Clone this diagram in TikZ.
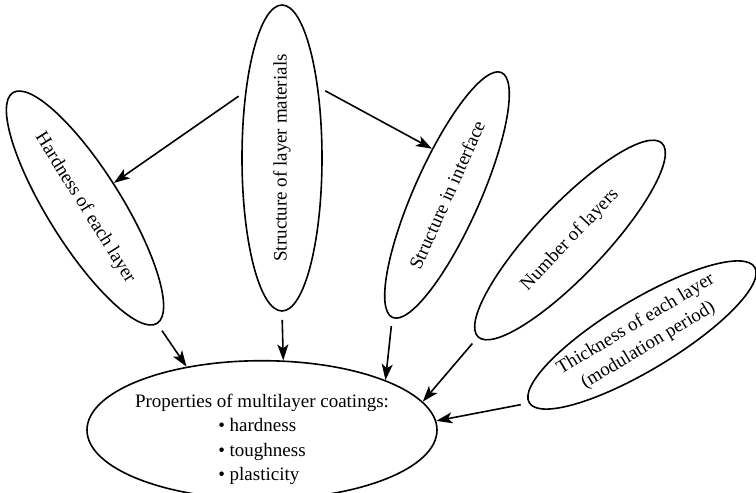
\documentclass[tikz,border=0pt]{standalone}
\usepackage{fontspec}
\setmainfont{Liberation Serif}
\usetikzlibrary{shapes.geometric,arrows.meta}

\begin{document}
\begin{tikzpicture}[x=1pt, y=-1pt, font=\fontsize{19}{24.5}\selectfont]
    % Define styles
    \tikzstyle{factor} = [ellipse, draw, line width=1.6pt, inner sep=0pt, align=center]
    \tikzstyle{arrow} = [line width=1.6pt, -{Stealth[length=16pt,width=11pt,inset=4pt]}, shorten <=8pt]

    \useasboundingbox (0,0) rectangle (756,493);

    % Nodes
    \node (f1) [factor, minimum width=272pt, minimum height=74pt, rotate=-58] at (85,208) {Hardness of each layer};
    \node (f2) [factor, minimum width=306pt, minimum height=80pt, rotate=90] at (282,158) {Structure of layer materials};
    \node (f3) [factor, minimum width=268pt, minimum height=66pt, rotate=66] at (447,195) {Structure in interface};
    \node (f4) [factor, minimum width=267pt, minimum height=70pt, rotate=46.5] at (570,240) {Number of layers};
    \node (f5) [factor, minimum width=263pt, minimum height=70pt, rotate=31] at (642,335) {Thickness of each layer\\(modulation period)};
    \node (prop) [factor, minimum width=350pt, minimum height=124pt, inner xsep=-12pt] at (262,430)
        {\raisebox{-9pt}[\height][\depth]{\begin{tabular}{@{}c@{}}Properties of multilayer coatings:\\
         \begin{tabular}[t]{@{}l@{}}\textbullet\ hardness\\ \textbullet\ toughness\\ \textbullet\ plasticity\end{tabular}\end{tabular}}};

    % Arrows
    \draw [arrow] (f2.29) -- (f1.99);
    \draw [arrow] (f2.-27) -- (f3.42);
    \draw [arrow] (f1.0) -- (prop.140);
    \draw [arrow] (f2.180) -- (prop.73);
    \draw [arrow] (f3.180) -- (prop.22);
    \draw [arrow] (f4.180) -- (prop.10);
    \draw [arrow] (f5.180) -- (prop.3);
\end{tikzpicture}
\end{document}
